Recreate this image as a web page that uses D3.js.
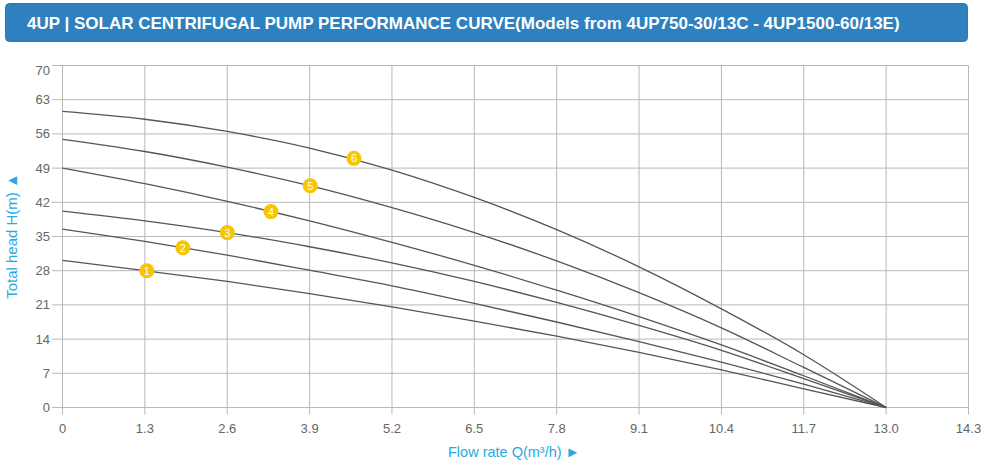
<!DOCTYPE html>
<html><head><meta charset="utf-8">
<script src="https://cdn.jsdelivr.net/npm/d3@7"></script>
<style>body{margin:0;background:#fff;}svg{display:block;font-family:"Liberation Sans",Arial,sans-serif;}</style>
</head><body><svg id="c" width="1000" height="461"></svg>
<script>
const titleText = "4UP | SOLAR CENTRIFUGAL PUMP PERFORMANCE CURVE(Models from 4UP750-30/13C - 4UP1500-60/13E)";
const flowTicks = [0, 1.3, 2.6, 3.9, 5.2, 6.5, 7.8, 9.1, 10.4, 11.7, 13.0, 14.3];
const headTicks = [0, 7, 14, 21, 28, 35, 42, 49, 56, 63, 70];
const flow = [0, 1.3, 2.6, 3.9, 5.2, 6.5, 7.8, 9.1, 10.4, 11.7, 13.0];
const curve1 = [30.1, 28.0, 25.8, 23.3, 20.6, 17.7, 14.6, 11.3, 7.7, 3.8, 0];
const curve2 = [36.5, 34.0, 31.2, 28.1, 24.9, 21.3, 17.5, 13.5, 9.3, 4.8, 0];
const curve3 = [40.2, 38.2, 35.8, 32.9, 29.6, 25.8, 21.5, 16.8, 11.7, 5.9, 0];
const curve4 = [49.0, 45.8, 42.2, 38.2, 33.8, 29.1, 24.0, 18.6, 12.8, 6.5, 0];
const curve5 = [54.9, 52.4, 49.2, 45.4, 40.9, 35.8, 30.0, 23.5, 16.3, 8.2, 0];
const curve6 = [60.6, 59.0, 56.5, 53.1, 48.6, 43.0, 36.4, 28.8, 20.2, 10.8, 0];
const markerLabels = ["1", "2", "3", "4", "5", "6"];
const markerFlow = [1.33, 1.9, 2.6, 3.29, 3.91, 4.6];
const markerHead = [28.0, 32.7, 35.8, 40.1, 45.4, 51.0];

const svg = d3.select("#c");
const x = d3.scaleLinear().domain([0, 14.3]).range([62.5, 968.5]);
const y = d3.scaleLinear().domain([0, 70]).range([407.5, 65.5]);

// title bar
svg.append("rect").attr("x", 5.5).attr("y", 3.5).attr("width", 962).attr("height", 38)
  .attr("rx", 4).attr("fill", "#2e80bf").attr("stroke", "#2a78b4");
svg.append("text").attr("x", 27).attr("y", 28.5).attr("fill", "#fff")
  .attr("font-size", 17).attr("font-weight", "bold").text(titleText);

// grid
const grid = svg.append("g");
grid.selectAll("line.h").data(headTicks).join("line")
  .attr("x1", 52).attr("x2", x(14.3)).attr("y1", d => y(d)).attr("y2", d => y(d))
  .attr("stroke", "#b8b8b8").attr("stroke-width", 1);
grid.selectAll("line.v").data(flowTicks).join("line")
  .attr("x1", d => x(d)).attr("x2", d => x(d)).attr("y1", y(70)).attr("y2", y(0) + 7)
  .attr("stroke", "#b8b8b8").attr("stroke-width", 1);

// axis labels
svg.append("g").selectAll("text").data(headTicks).join("text")
  .attr("x", 50).attr("y", d => y(d) + (d === 70 ? 5 : 0)).attr("dy", "0.35em")
  .attr("text-anchor", "end").attr("font-size", 13).attr("fill", "#666")
  .text(d => d);
svg.append("g").selectAll("text").data(flowTicks).join("text")
  .attr("x", d => x(d)).attr("y", 433).attr("text-anchor", "middle")
  .attr("font-size", 13).attr("fill", "#666")
  .text(d => d === 0 ? "0" : d.toFixed(1));

// curves
const line = d3.line().x(d => x(d[0])).y(d => y(d[1])).curve(d3.curveMonotoneX);
const curves = [curve1, curve2, curve3, curve4, curve5, curve6];
svg.append("g").selectAll("path").data(curves).join("path")
  .attr("d", c => line(flow.map((q, i) => [q, c[i]])))
  .attr("fill", "none").attr("stroke", "#555").attr("stroke-width", 1.3);

// markers
const mk = svg.append("g").selectAll("g").data(markerLabels).join("g")
  .attr("transform", (d, i) => `translate(${x(markerFlow[i])},${y(markerHead[i])})`);
mk.append("circle").attr("r", 7.5).attr("fill", "#f7c600");
mk.append("text").attr("text-anchor", "middle").attr("dy", "0.36em")
  .attr("font-size", 11).attr("fill", "#fff").text(d => d);

// axis titles
svg.append("text").attr("transform", "translate(17,236) rotate(-90)")
  .attr("text-anchor", "middle").attr("font-size", 15).attr("fill", "#29a9e1")
  .text("Total head H(m) \u25B2");
svg.append("text").attr("x", 448).attr("y", 457)
  .attr("font-size", 14.5).attr("fill", "#29a9e1")
  .text("Flow rate Q(m\u00B3/h) \u25BA");
</script></body></html>
